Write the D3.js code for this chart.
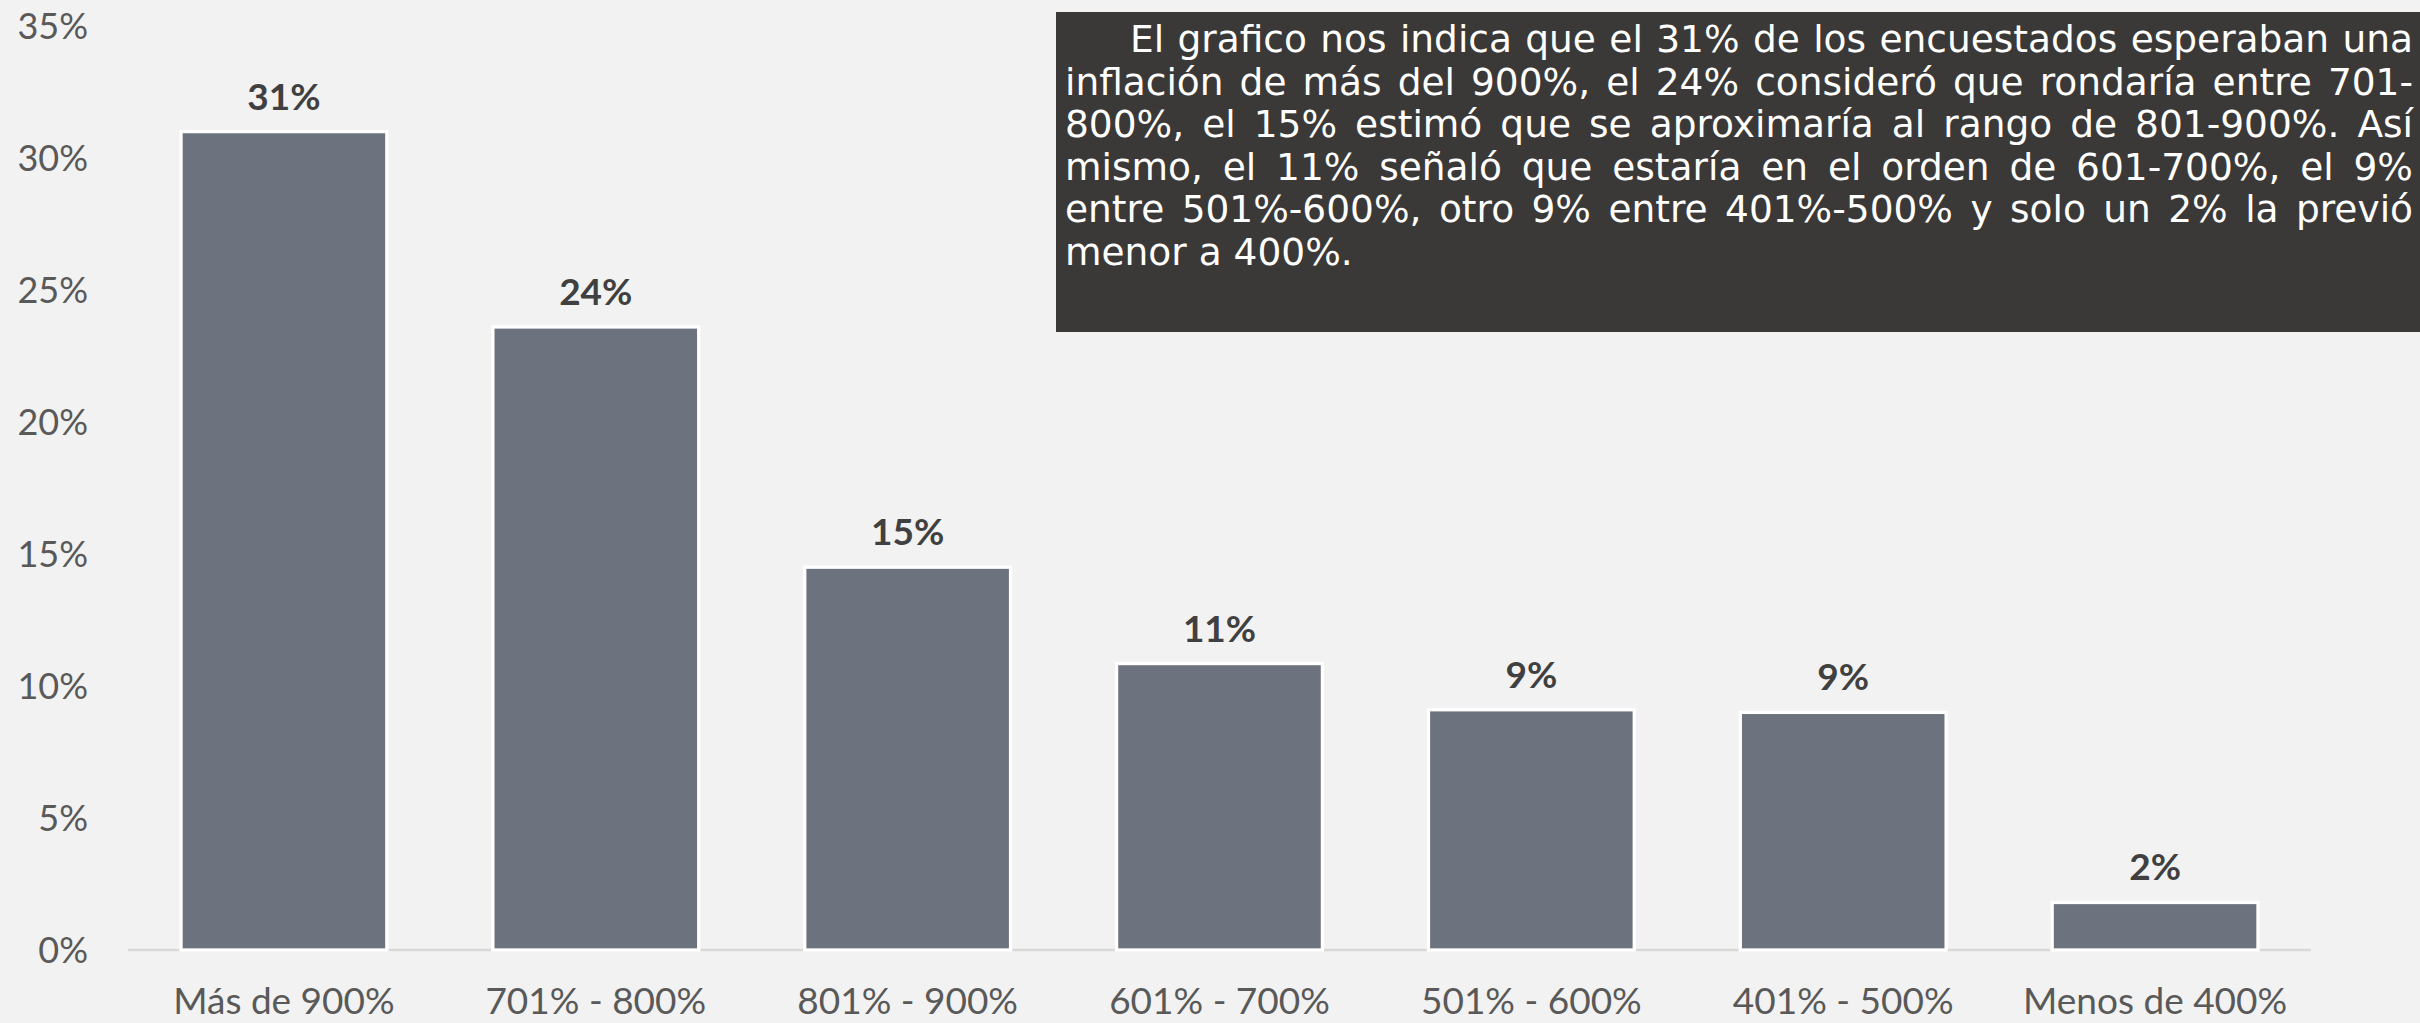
<!DOCTYPE html>
<html>
<head>
<meta charset="utf-8">
<script src="https://cdn.jsdelivr.net/npm/d3@7"></script>
<style>
  html, body { margin: 0; padding: 0; background: #f2f2f2; }
  svg { display: block; }
</style>
</head>
<body>
<svg id="chart" width="2420" height="1023"></svg>
<script>
// ---- Data ----
const categories = ["Más de 900%", "701% - 800%", "801% - 900%", "601% - 700%", "501% - 600%", "401% - 500%", "Menos de 400%"];
const values = [31.0, 23.6, 14.5, 10.85, 9.1, 9.0, 1.8];
const valueLabels = ["31%", "24%", "15%", "11%", "9%", "9%", "2%"];
const yTicks = [0, 5, 10, 15, 20, 25, 30, 35];
const noteLines = [
  "El grafico nos indica que el 31% de los encuestados esperaban una",
  "inflación de más del 900%, el 24% consideró que rondaría entre 701-",
  "800%, el 15% estimó que se aproximaría al rango de 801-900%. Así",
  "mismo, el 11% señaló que estaría en el orden de 601-700%, el 9%",
  "entre 501%-600%, otro 9% entre 401%-500% y solo un 2% la previó",
  "menor a 400%."
];

// ---- Layout ----
const W = 2420, H = 1023;
const svg = d3.select("#chart");
svg.append("rect").attr("width", W).attr("height", H).attr("fill", "#f2f2f2");

const plotLeft = 128, plotRight = 2311, plotTop = 26, plotBottom = 950;
const labelFont = "Lato, 'Open Sans', sans-serif";

const x = d3.scaleBand().domain(categories).range([plotLeft, plotRight])
  .paddingInner(0.34).paddingOuter(0.17);
const y = d3.scaleLinear().domain([0, 35]).range([plotBottom, plotTop]);

// Y axis
const yAxis = d3.axisLeft(y).tickValues(yTicks).tickSize(0).tickPadding(0)
  .tickFormat(d => d + "%");
const gy = svg.append("g").attr("transform", "translate(88,0)").call(yAxis);
gy.select(".domain").remove();
gy.selectAll("text")
  .attr("font-family", labelFont).attr("font-size", 36)
  .attr("fill", "#595959").attr("dy", "0.35em");

// Baseline
svg.append("line")
  .attr("x1", plotLeft).attr("x2", plotRight)
  .attr("y1", y(0)).attr("y2", y(0))
  .attr("stroke", "#d9d9d9").attr("stroke-width", 2.5);

// Bars
svg.append("g").selectAll("rect").data(values).join("rect")
  .attr("x", (d, i) => x(categories[i]))
  .attr("y", d => y(d))
  .attr("width", x.bandwidth())
  .attr("height", d => y(0) - y(d))
  .attr("fill", "#6d737e")
  .attr("stroke", "#ffffff").attr("stroke-width", 3.3);

// Value labels
svg.append("g").selectAll("text").data(values).join("text")
  .attr("x", (d, i) => x(categories[i]) + x.bandwidth() / 2)
  .attr("y", d => y(d) - 22)
  .attr("text-anchor", "middle")
  .attr("font-family", labelFont).attr("font-weight", "bold")
  .attr("font-size", 37).attr("fill", "#404040")
  .text((d, i) => valueLabels[i]);

// X axis labels
const xAxis = d3.axisBottom(x).tickSize(0).tickPadding(0);
const gx = svg.append("g").attr("transform", `translate(0,${plotBottom})`).call(xAxis);
gx.select(".domain").remove();
gx.selectAll("text")
  .attr("font-family", labelFont).attr("font-size", 37)
  .attr("fill", "#595959").attr("y", 64).attr("dy", 0);

// ---- Note box ----
const box = { x: 1056, y: 12, w: W - 1056, h: 320 };
svg.append("rect").attr("x", box.x).attr("y", box.y)
  .attr("width", box.w).attr("height", box.h).attr("fill", "#3a3937");

const noteFont = "'DejaVu Sans', Verdana, sans-serif";
const textLeft = 1065, textRight = 2413, indent = 65;
const baseline0 = 52, lineGap = 42.5;
const gNote = svg.append("g").attr("font-family", noteFont).attr("fill", "#ffffff");

// pick the largest size (up to 39px) at which every justified line fits
function lineWidth(line, size) {
  const t = gNote.append("text").attr("font-size", size).attr("xml:space", "preserve").text(line);
  const w = t.node().getComputedTextLength();
  t.remove();
  return w;
}
let noteSize = 39;
while (noteSize > 30) {
  const ok = noteLines.every((l, i) => lineWidth(l, noteSize) <= textRight - textLeft - (i === 0 ? indent : 0));
  if (ok) break;
  noteSize -= 0.5;
}
gNote.attr("font-size", noteSize);

noteLines.forEach((line, li) => {
  const words = line.split(" ");
  const startX = textLeft + (li === 0 ? indent : 0);
  const by = baseline0 + li * lineGap;
  const nodes = words.map(w => gNote.append("text").attr("y", by).text(w));
  const widths = nodes.map(n => n.node().getComputedTextLength());
  const total = d3.sum(widths);
  const last = li === noteLines.length - 1;
  const gap = last ? noteSize * 0.318 : (textRight - startX - total) / (words.length - 1);
  let cx = startX;
  nodes.forEach((n, i) => { n.attr("x", cx); cx += widths[i] + gap; });
});
</script>
</body>
</html>
